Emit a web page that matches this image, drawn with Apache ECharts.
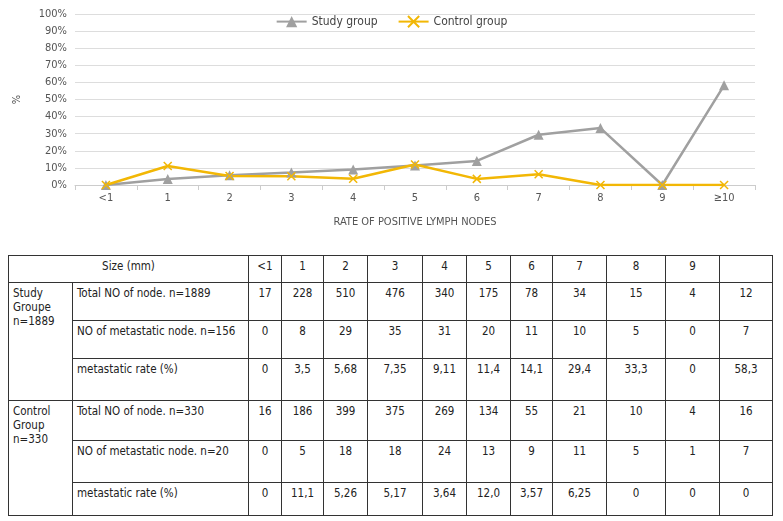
<!DOCTYPE html>
<html><head><meta charset="utf-8">
<script src="https://cdn.jsdelivr.net/npm/echarts@6/dist/echarts.min.js"></script>
<style>
body{margin:0;background:#fff;font-family:"Liberation Sans Narrow","DejaVu Sans Condensed",sans-serif;}
#chart{position:absolute;left:0;top:0;width:783px;height:235px;}
#tbl{position:absolute;left:8px;top:255px;border-collapse:collapse;font-size:11.5px;color:#222;table-layout:fixed;}
#tbl td{border:1px solid #333;vertical-align:top;padding:3px 4px;}
#tbl td.n{text-align:center;}
</style></head><body>
<div id="chart"></div>
<table id="tbl"></table>
<script>
var categories = ['<1','1','2','3','4','5','6','7','8','9','≥10'];
var studyRate = [0,3.5,5.68,7.35,9.11,11.4,14.1,29.4,33.3,0,58.3];
var controlRate = [0,11.1,5.26,5.17,3.64,12.0,3.57,6.25,0,0,0];
var sizeHeader = ['<1','1','2','3','4','5','6','7','8','9',''];
var studyTotal = ['17','228','510','476','340','175','78','34','15','4','12'];
var studyMeta = ['0','8','29','35','31','20','11','10','5','0','7'];
var studyRateTxt = ['0','3,5','5,68','7,35','9,11','11,4','14,1','29,4','33,3','0','58,3'];
var controlTotal = ['16','186','399','375','269','134','55','21','10','4','16'];
var controlMeta = ['0','5','18','18','24','13','9','11','5','1','7'];
var controlRateTxt = ['0','11,1','5,26','5,17','3,64','12,0','3,57','6,25','0','0','0'];

var myChart = echarts.init(document.getElementById('chart'));
var font = '"Liberation Sans Narrow","DejaVu Sans Condensed",sans-serif';
var option = {
  animation:false,
  textStyle:{fontFamily:font},
  legend:{top:10,left:'center',itemGap:20,itemWidth:30,textStyle:{color:'#444',fontSize:12},
    data:['Study group','Control group']},
  grid:{left:75,right:28,top:14,bottom:50},
  xAxis:{type:'category',data:categories,boundaryGap:true,
    name:'RATE OF POSITIVE LYMPH NODES',nameLocation:'middle',nameGap:32,
    nameTextStyle:{color:'#555',fontSize:11},
    axisLine:{lineStyle:{color:'#ccc'}},axisTick:{show:true,lineStyle:{color:'#ccc'}},
    axisLabel:{color:'#555',fontSize:11}},
  yAxis:{type:'value',min:0,max:100,interval:10,name:'%',nameLocation:'middle',nameGap:52,
    nameTextStyle:{color:'#555',fontSize:11},
    axisLabel:{formatter:'{value}%',color:'#555',fontSize:11},
    splitLine:{lineStyle:{color:'#ddd'}}},
  series:[
    {name:'Study group',type:'line',data:studyRate,symbol:'triangle',symbolSize:10,
      lineStyle:{color:'#a0a0a0',width:2.5},itemStyle:{color:'#a0a0a0'}},
    {name:'Control group',type:'line',data:controlRate,symbol:'path://M0,0L10,10M10,0L0,10',symbolSize:8,
      lineStyle:{color:'#f2b705',width:2.5},itemStyle:{color:'#f2b705',borderColor:'#f2b705',borderWidth:1.5}}
  ]
};
myChart.setOption(option);

// table
var colW = [64,176,33,42,44,55,44,44,42,54,59,54,53];
var tbl = document.getElementById('tbl');
var cg = '<colgroup>' + colW.map(function(w){return '<col style="width:'+w+'px">';}).join('') + '</colgroup>';
function cells(arr){return arr.map(function(v){return '<td class="n">'+v+'</td>';}).join('');}
var h = '<tr style="height:27px"><td colspan="2" style="text-align:center">Size (mm)</td>'+cells(sizeHeader)+'</tr>';
h += '<tr style="height:38px"><td rowspan="3">Study<br>Groupe<br>n=1889</td><td>Total NO of node. n=1889</td>'+cells(studyTotal)+'</tr>';
h += '<tr style="height:38px"><td>NO of metastatic node. n=156</td>'+cells(studyMeta)+'</tr>';
h += '<tr style="height:42px"><td>metastatic rate (%)</td>'+cells(studyRateTxt)+'</tr>';
h += '<tr style="height:40px"><td rowspan="3">Control<br>Group<br>n=330</td><td>Total NO of node. n=330</td>'+cells(controlTotal)+'</tr>';
h += '<tr style="height:42px"><td>NO of metastatic node. n=20</td>'+cells(controlMeta)+'</tr>';
h += '<tr style="height:33px"><td>metastatic rate (%)</td>'+cells(controlRateTxt)+'</tr>';
tbl.innerHTML = cg + h;
</script>
</body></html>
